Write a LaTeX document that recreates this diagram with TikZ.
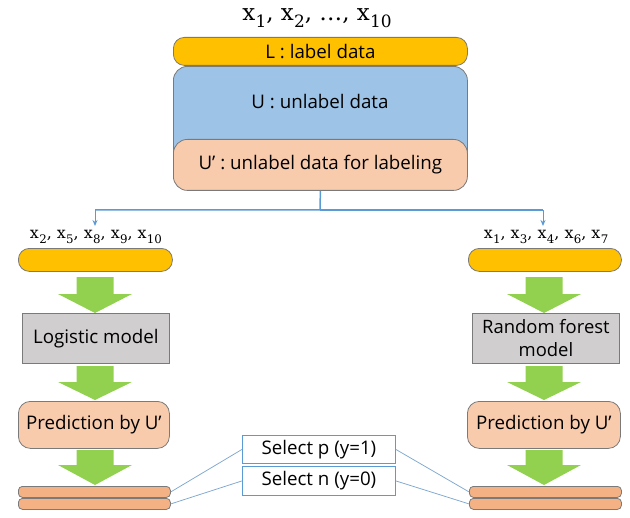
\documentclass[tikz,border=0pt]{standalone}
\usepackage{fontspec}
\usepackage{graphicx}
\setmainfont{Open Sans}
\newfontfamily\mserif{DejaVu Serif}
\usetikzlibrary{arrows.meta}
\definecolor{gold}{HTML}{FFC000}
\definecolor{lblue}{HTML}{9DC3E6}
\definecolor{lorange}{HTML}{F8CBAD}
\definecolor{morange}{HTML}{F4B183}
\definecolor{lgray}{HTML}{D0CECE}
\definecolor{edgegray}{HTML}{7A7A7A}
\definecolor{agreen}{HTML}{92D050}
\definecolor{conn}{HTML}{5B9BD5}
\definecolor{selline}{HTML}{7FA7CF}
\newcommand{\xs}[1]{x\kern0.3pt\raisebox{-0.28em}{\scalebox{0.74}{#1}}}
\tikzset{
  base/.style={draw=edgegray, line width=0.8bp, inner sep=0pt, text=black, font=\fontsize{18.8}{22}\selectfont},
  pill/.style={base, fill=gold, rounded corners=11bp},
  ubox/.style={base, fill=lblue, rounded corners=14bp},
  upbox/.style={base, fill=lorange, rounded corners=14bp},
  graybox/.style={base, fill=lgray},
  predbox/.style={base, fill=lorange, rounded corners=12bp},
  bar/.style={base, fill=morange, rounded corners=4bp},
  selbox/.style={draw=conn, line width=0.8bp, fill=white, inner sep=0pt, font=\fontsize{18.8}{22}\selectfont},
  mathlbl/.style={inner sep=0pt, font=\mserif\fontsize{16}{18}\selectfont},
  selconn/.style={draw=selline, line width=0.75bp},
}
\newcommand{\garrow}[5]{% name, cx, top, headstart, tip
  \fill[agreen] (#2-18.5,#3) -- (#2+18.5,#3) -- (#2+18.5,#4) -- (#2+37,#4) -- (#2,#5) -- (#2-37,#4) -- (#2-18.5,#4) -- cycle;
  \coordinate (#1) at (#2,#5);
}
\begin{document}
\begin{tikzpicture}[x=1bp,y=-1bp]
\useasboundingbox (0,0) rectangle (630,518);
% top title
\node[mathlbl, font=\mserif\fontsize{23}{26}\selectfont] (title) at (317,18) {\xs{1}, \xs{2}, …, \xs{10}};
% U box (behind)
\node[ubox, minimum width=294bp, minimum height=110bp, anchor=north west] (U) at (173,66) {};
\node[font=\fontsize{18.8}{22}\selectfont] (Ut) at (320,102) {U : unlabel data};
% U' box
\node[upbox, minimum width=294bp, minimum height=51bp, anchor=north west] (Up) at (173,139) {U’ : unlabel data for labeling};
% L pill
\node[pill, minimum width=294bp, minimum height=28bp, anchor=north west] (L) at (173,37) {L : label data};
% connector
\coordinate (split) at (320,210);
\coordinate (lcorner) at (95,210);
\coordinate (rcorner) at (543,210);
\node[mathlbl] (xl) at (96,237) {\xs{2}, \xs{5}, \xs{8}, \xs{9}, \xs{10}};
\node[mathlbl] (xr) at (546,237) {\xs{1}, \xs{3}, \xs{4}, \xs{6}, \xs{7}};
\draw[conn, line width=1.5bp] (Up.south) -- (split) -- (lcorner);
\draw[conn, line width=1.5bp] (split) -- (rcorner);
\draw[conn, line width=1bp, -{Stealth[length=6bp,width=5bp]}] (lcorner) -- (95,226);
\draw[conn, line width=1bp, -{Stealth[length=6bp,width=5bp]}] (rcorner) -- (543,226);
% left column
\node[pill, minimum width=154bp, minimum height=23bp, anchor=north west] (pl) at (18,248) {};
\node[graybox, minimum width=147bp, minimum height=50bp, anchor=north west] (logit) at (22,313) {Logistic model};
\node[predbox, minimum width=151bp, minimum height=47bp, anchor=north west] (predl) at (18,401) {Prediction by U’};
\node[bar, minimum width=152bp, minimum height=11bp, anchor=north west] (bl1) at (18,486) {};
\node[bar, minimum width=152bp, minimum height=11bp, anchor=north west] (bl2) at (18,498) {};
% right column
\node[pill, minimum width=153bp, minimum height=23bp, anchor=north west] (pr) at (468,248) {};
\node[graybox, minimum width=147bp, minimum height=50bp, anchor=north west, align=center, font=\fontsize{18.5}{23}\selectfont] (rf) at (472,313) {Random forest\\model};
\node[predbox, minimum width=153bp, minimum height=47bp, anchor=north west] (predr) at (467,401) {Prediction by U’};
\node[bar, minimum width=152bp, minimum height=11bp, anchor=north west] (br1) at (469,486) {};
\node[bar, minimum width=152bp, minimum height=11bp, anchor=north west] (br2) at (469,498) {};
% green arrows
\garrow{ga1}{95}{277}{294}{313}
\garrow{ga2}{95}{366}{382}{400}
\garrow{ga3}{95}{450}{465}{485}
\garrow{gb1}{544}{277}{294}{313}
\garrow{gb2}{544}{366}{382}{400}
\garrow{gb3}{544}{450}{465}{485}
% select boxes
\node[selbox, minimum width=153bp, minimum height=28bp, anchor=north west] (selp) at (242,435) {Select p (y=1)};
\node[selbox, minimum width=153bp, minimum height=29bp, anchor=north west] (seln) at (242,466) {Select n (y=0)};
\draw[selconn] (bl1.east) -- (selp.west);
\draw[selconn] (bl2.east) -- (seln.west);
\draw[selconn] (selp.east) -- (br1.west);
\draw[selconn] (seln.east) -- (br2.west);
\end{tikzpicture}
\end{document}
